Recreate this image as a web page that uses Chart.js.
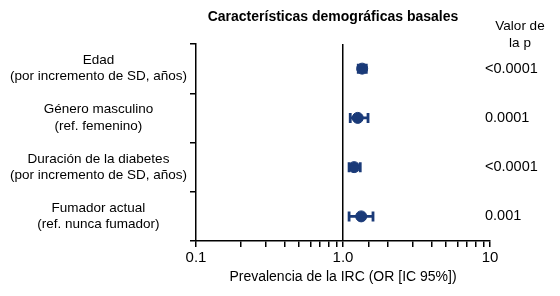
<!DOCTYPE html>
<html>
<head>
<meta charset="utf-8">
<script src="https://cdn.jsdelivr.net/npm/chart.js@4.4.1/dist/chart.umd.min.js"></script>
<style>
  html, body { margin: 0; padding: 0; background: #fff; }
  #wrap { width: 560px; height: 296px; }
</style>
</head>
<body>
<div id="wrap"><canvas id="forest"></canvas></div>
<script>
// Datos del forest plot
const categorias = [
  ['Edad', '(por incremento de SD, años)'],
  ['Género masculino', '(ref. femenino)'],
  ['Duración de la diabetes', '(por incremento de SD, años)'],
  ['Fumador actual', '(ref. nunca fumador)']
];
const orValores = [1.35, 1.26, 1.19, 1.33];
const icInferior = [1.27, 1.12, 1.10, 1.10];
const icSuperior = [1.44, 1.48, 1.31, 1.60];
const valoresP = ['<0.0001', '0.0001', '<0.0001', '0.001'];
const ticksEjeX = [0.1, 1, 10];
const etiquetasEjeX = ['0.1', '1.0', '10'];

const azul = '#1a3a78';
const fuente = '"Liberation Sans", Arial, sans-serif';
const claves = categorias.map((c, i) => 'cat' + i);

// Barras de error, titulo y columna de p
const extras = {
  id: 'extras',
  afterDatasetsDraw(chart) {
    const ctx = chart.ctx;
    const xs = chart.scales.x, ys = chart.scales.y;
    ctx.save();
    ctx.strokeStyle = azul;
    ctx.lineWidth = 2.8;
    orValores.forEach((v, i) => {
      const y = ys.getPixelForValue(i);
      const x1 = xs.getPixelForValue(icInferior[i]);
      const x2 = xs.getPixelForValue(icSuperior[i]);
      ctx.beginPath();
      ctx.moveTo(x1, y); ctx.lineTo(x2, y);
      ctx.moveTo(x1, y - 5); ctx.lineTo(x1, y + 5);
      ctx.moveTo(x2, y - 5); ctx.lineTo(x2, y + 5);
      ctx.stroke();
    });
    ctx.restore();
  },
  afterDraw(chart) {
    const ctx = chart.ctx;
    const ys = chart.scales.y;
    const area = chart.chartArea;
    ctx.save();
    ctx.fillStyle = '#000';
    ctx.textBaseline = 'middle';
    ctx.textAlign = 'center';
    ctx.font = 'bold 14px ' + fuente;
    ctx.fillText('Características demográficas basales', 333, 17);
    ctx.font = '13.5px ' + fuente;
    ctx.fillText('Valor de', 520, 26);
    ctx.fillText('la p', 520, 43);
    ctx.textAlign = 'left';
    ctx.font = '14.5px ' + fuente;
    valoresP.forEach((p, i) => {
      ctx.fillText(p, area.right - 5, ys.getPixelForValue(i));
    });
    ctx.restore();
  }
};

new Chart(document.getElementById('forest'), {
  type: 'scatter',
  data: {
    datasets: [{
      data: orValores.map((v, i) => ({ x: v, y: claves[i] })),
      backgroundColor: azul,
      borderColor: azul,
      pointRadius: 5.5,
      pointHoverRadius: 5.5
    }]
  },
  options: {
    responsive: true,
    maintainAspectRatio: false,
    animation: false,
    layout: { padding: { top: 44, right: 70, left: 0, bottom: 0 } },
    plugins: { legend: { display: false }, tooltip: { enabled: false } },
    scales: {
      x: {
        type: 'logarithmic',
        min: 0.1,
        max: 10,
        afterFit(scale) { scale.height = 55; },
        border: { color: '#000', width: 1.5 },
        grid: {
          drawOnChartArea: true,
          color: c => (c.tick && c.tick.value === 1 ? '#000' : 'rgba(0,0,0,0)'),
          lineWidth: 1.5,
          tickColor: '#000',
          tickLength: 6
        },
        ticks: {
          autoSkip: false,
          maxRotation: 0,
          color: '#000',
          padding: 2,
          font: { family: fuente, size: 15 },
          callback(value) {
            const k = ticksEjeX.indexOf(value);
            return k >= 0 ? etiquetasEjeX[k] : '';
          }
        },
        title: {
          display: true,
          text: 'Prevalencia de la IRC (OR [IC 95%])',
          color: '#000',
          font: { family: fuente, size: 14 },
          padding: { top: 0, bottom: 10 }
        }
      },
      y: {
        type: 'category',
        labels: claves,
        offset: true,
        afterFit(scale) { scale.width = 196; },
        border: { color: '#000', width: 1.5 },
        grid: {
          offset: true,
          drawOnChartArea: false,
          tickColor: '#000',
          tickLength: 6,
          lineWidth: 1.5
        },
        ticks: {
          color: '#000',
          crossAlign: 'center',
          padding: 3,
          font: { family: fuente, size: 13.5, lineHeight: 1.2 },
          callback(value, index) { return categorias[index]; }
        }
      }
    }
  },
  plugins: [extras]
});
</script>
</body>
</html>
